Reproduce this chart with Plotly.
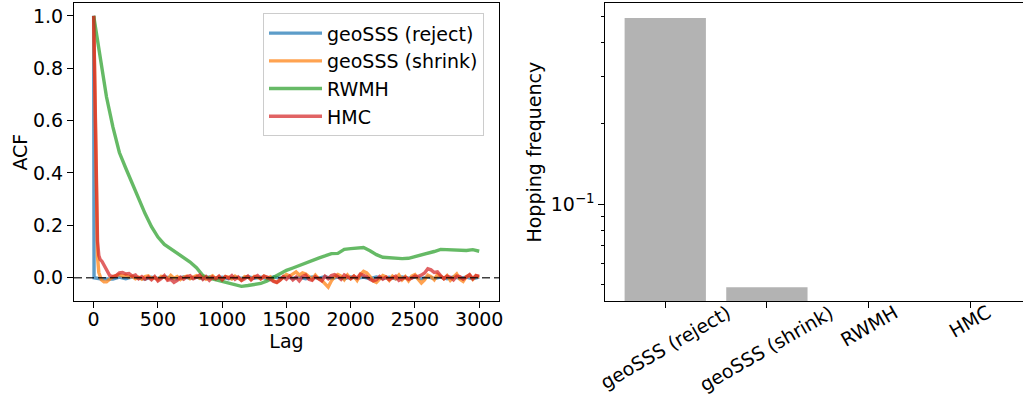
import plotly.graph_objects as go

# ---------------- data: ACF (left panel) ----------------
reject_lag = [0, 3, 50, 100, 150, 200, 250, 300, 350, 400, 450, 500, 550, 600, 650, 700, 750, 800, 850, 900,
              950, 1000, 1050, 1100, 1150, 1200, 1250, 1300, 1350, 1400, 1450, 1500, 1550, 1600, 1650, 1700,
              1750, 1800, 1850, 1900, 1950, 2000, 2050, 2100, 2150, 2200, 2250, 2300, 2350, 2400, 2450, 2500,
              2550, 2600, 2650, 2700, 2750, 2800, 2850, 2900, 2950, 3000]
reject_acf = [1.0, 0.0, -0.004, -0.003, -0.005, 0.002, -0.004, 0.003, -0.002, -0.005, 0.002, -0.003, 0.004,
              -0.002, -0.004, 0.003, -0.002, 0.002, -0.004, 0.003, -0.003, 0.002, -0.004, 0.002, -0.003, 0.004,
              -0.002, 0.002, -0.004, 0.003, -0.002, 0.004, -0.003, 0.002, -0.004, 0.003, -0.002, 0.004, -0.003,
              0.002, -0.004, 0.003, -0.002, 0.002, -0.004, 0.003, -0.003, 0.002, -0.004, 0.003, -0.002, 0.002,
              -0.004, 0.003, -0.003, 0.002, -0.004, 0.003, -0.002, 0.002, -0.004, 0.002]

shrink_lag = [0, 10, 20, 30, 40, 60, 80, 100, 125,
              150, 175, 200, 225, 250, 275, 300, 325, 350, 375, 400, 425, 450, 475, 500, 525, 550, 575, 600,
              625, 650, 675, 700, 725, 750, 775, 800, 825, 850, 875, 900, 925, 950, 975, 1000, 1025, 1050,
              1075, 1100, 1125, 1150, 1175, 1200, 1225, 1250, 1275, 1300, 1325, 1350, 1375, 1400, 1425, 1450,
              1475, 1500, 1525, 1550, 1575, 1600, 1625, 1650, 1675, 1700, 1725, 1750, 1775, 1800, 1825, 1850,
              1875, 1900, 1925, 1950, 1975, 2000, 2025, 2050, 2075, 2100, 2125, 2150, 2175, 2200, 2225, 2250,
              2275, 2300, 2325, 2350, 2375, 2400, 2425, 2450, 2475, 2500, 2525, 2550, 2575, 2600, 2625, 2650,
              2675, 2700, 2725, 2750, 2775, 2800, 2825, 2850, 2875, 2900, 2925, 2950, 2975, 3000]
shrink_acf = [1.0, 0.62, 0.28, 0.08, 0.02, -0.008, -0.016, -0.016, -0.006,
              0.004, 0.008, 0.012, 0.006, 0.010, 0.003, 0.005, -0.004, 0.002, -0.006, 0.004, 0.007, -0.003,
              0.001, -0.008, 0.005, 0.003, -0.005, 0.009, -0.002, 0.004, -0.007, 0.002, 0.006, -0.004, 0.003,
              0.008, -0.002, 0.005, -0.006, 0.001, 0.007, -0.004, 0.003, -0.008, 0.004, 0.002, -0.005, 0.006,
              -0.003, -0.010, 0.004, 0.002, -0.006, 0.005, 0.001, -0.004, 0.006, -0.002, 0.003, -0.012, -0.018,
              -0.008, 0.004, 0.012, 0.006, 0.015, 0.022, 0.010, 0.018, 0.014, 0.002, -0.006, 0.010, -0.004,
              -0.010, -0.024, -0.036, -0.012, 0.004, 0.012, 0.006, -0.008, 0.010, -0.004, 0.006, -0.010, 0.012,
              0.024, 0.018, 0.004, -0.012, -0.018, -0.006, 0.008, 0.003, -0.010, 0.006, -0.004, 0.010, -0.008,
              0.004, -0.012, 0.006, 0.012, -0.006, -0.020, -0.008, 0.010, 0.004, -0.008, 0.012, 0.006, -0.004,
              0.008, -0.010, 0.004, 0.014, -0.006, -0.014, 0.004, 0.010, -0.006, 0.008, 0.002]

rwmh_lag = [0, 25, 50, 100, 150, 200, 250, 300, 350, 400, 450, 500, 550, 600, 650, 700, 750, 800, 850, 900,
            950, 1000, 1050, 1100, 1150, 1200, 1250, 1300, 1350, 1400, 1450, 1500, 1550, 1600, 1650, 1700,
            1750, 1800, 1850, 1900, 1950, 2000, 2050, 2100, 2150, 2200, 2250, 2300, 2350, 2400, 2450, 2500,
            2550, 2600, 2650, 2700, 2750, 2800, 2850, 2900, 2950, 3000]
rwmh_acf = [1.0, 0.92, 0.83, 0.69, 0.575, 0.478, 0.418, 0.36, 0.30, 0.245, 0.195, 0.155, 0.127, 0.11, 0.093,
            0.075, 0.06, 0.038, 0.008, -0.002, -0.008, -0.015, -0.022, -0.028, -0.033, -0.03, -0.027, -0.022,
            -0.012, 0.002, 0.017, 0.028, 0.037, 0.047, 0.057, 0.066, 0.075, 0.083, 0.092, 0.093, 0.108, 0.111,
            0.114, 0.115, 0.103, 0.088, 0.078, 0.076, 0.074, 0.073, 0.074, 0.08, 0.088, 0.092, 0.1, 0.108,
            0.107, 0.105, 0.104, 0.104, 0.107, 0.101]

hmc_lag = [0, 10, 20, 30, 40, 50, 65, 80, 100, 125, 150,
           175, 200, 225, 250, 275, 300, 325, 350, 375, 400, 425, 450, 475, 500, 525, 550, 575, 600, 625,
           650, 675, 700, 725, 750, 775, 800, 825, 850, 875, 900, 925, 950, 975, 1000, 1025, 1050, 1075,
           1100, 1125, 1150, 1175, 1200, 1225, 1250, 1275, 1300, 1325, 1350, 1375, 1400, 1425, 1450, 1475,
           1500, 1525, 1550, 1575, 1600, 1625, 1650, 1675, 1700, 1725, 1750, 1775, 1800, 1825, 1850, 1875,
           1900, 1925, 1950, 1975, 2000, 2025, 2050, 2075, 2100, 2125, 2150, 2175, 2200, 2225, 2250, 2275,
           2300, 2325, 2350, 2375, 2400, 2425, 2450, 2475, 2500, 2525, 2550, 2575, 2600, 2625, 2650, 2675,
           2700, 2725, 2750, 2775, 2800, 2825, 2850, 2875, 2900, 2925, 2950, 2975, 3000]
hmc_acf = [1.0, 0.72, 0.34, 0.14, 0.085, 0.07, 0.062, 0.05, 0.028, 0.008, 0.004,
           0.008, 0.018, 0.020, 0.014, 0.016, 0.006, 0.010, -0.004, 0.004, -0.006, 0.002, -0.008, 0.004,
           -0.012, -0.004, 0.008, -0.010, -0.006, -0.018, -0.010, 0.002, -0.006, 0.004, 0.008, -0.004, 0.002,
           0.010, -0.006, 0.004, -0.010, 0.002, -0.004, 0.006, -0.008, 0.004, -0.002, 0.008, -0.006, 0.003,
           -0.010, -0.004, 0.006, -0.008, 0.002, 0.008, -0.004, 0.006, 0.002, -0.006, -0.014, -0.018, -0.010,
           0.004, -0.006, 0.006, -0.008, 0.002, -0.012, 0.004, 0.010, -0.006, -0.010, 0.004, -0.004, -0.012,
           0.006, -0.004, 0.008, 0.012, 0.004, -0.006, 0.010, 0.002, -0.004, 0.006, -0.002, 0.014, 0.008,
           0.004, -0.006, -0.012, -0.008, 0.004, -0.006, 0.002, -0.008, -0.002, 0.006, -0.010, -0.004, 0.002,
           -0.006, -0.002, 0.006, 0.004, 0.010, 0.018, 0.034, 0.030, 0.020, 0.022, 0.008, -0.004, 0.006,
           0.002, -0.008, 0.006, 0.004, -0.006, 0.002, 0.012, -0.004, 0.008, 0.006]

series_names = ["geoSSS (reject)", "geoSSS (shrink)", "RWMH", "HMC"]
series_colors = ["#1f77b4", "#ff7f0e", "#2ca02c", "#d62728"]

x_ticks = [0, 500, 1000, 1500, 2000, 2500, 3000]
y_ticks = [0.0, 0.2, 0.4, 0.6, 0.8, 1.0]

# ---------------- data: hopping frequency (right panel) ----------------
samplers = ["geoSSS (reject)", "geoSSS (shrink)", "RWMH", "HMC"]
hop_freq = [0.495, 0.049, 0.0, 0.0]
log_major_ticks = [0.1]
log_major_text = ["10<sup>\u22121</sup>"]
log_minor_ticks = [0.05, 0.06, 0.07, 0.08, 0.09, 0.2, 0.3, 0.4, 0.5]

FONT = "DejaVu Sans"
FS = 19
W, H = 1023, 409

fig = go.Figure()

pairs = [(reject_lag, reject_acf), (shrink_lag, shrink_acf), (rwmh_lag, rwmh_acf), (hmc_lag, hmc_acf)]
for (lx, ly), name, col in zip(pairs, series_names, series_colors):
    fig.add_trace(go.Scatter(x=lx, y=ly, mode="lines", name=name,
                             line=dict(color=col, width=3.4), opacity=0.72,
                             xaxis="x", yaxis="y"))

fig.add_trace(go.Bar(x=samplers, y=hop_freq, marker=dict(color="#b3b3b3", line=dict(width=0)),
                     width=0.8, showlegend=False, xaxis="x2", yaxis="y2"))

# dashed zero line across the left panel
fig.add_shape(type="line", xref="x domain", yref="y", x0=0, x1=1, y0=0, y1=0,
              line=dict(color="rgba(0,0,0,0.75)", width=1.6, dash="8px,4px"), layer="above")

axis_common = dict(showgrid=False, zeroline=False, showline=True, linecolor="black", linewidth=1,
                   ticks="outside", tickcolor="black", tickwidth=1, automargin=False,
                   tickfont=dict(family=FONT, size=FS, color="black"))

top = 1 - 3.3 / H
bot = 1 - 301 / H

fig.update_layout(
    width=W, height=H,
    margin=dict(l=0, r=0, t=0, b=0),
    paper_bgcolor="white", plot_bgcolor="white",
    font=dict(family=FONT, size=FS, color="black"),
    xaxis=dict(domain=[74 / W, 499 / W], anchor="y", range=[-153, 3154], tickvals=x_ticks,
               ticklen=6, mirror=True, ticklabelstandoff=-5,
               title=dict(text="Lag", font=dict(family=FONT, size=FS), standoff=0), **axis_common),
    yaxis=dict(domain=[bot, top], anchor="x", range=[-0.089, 1.048], tickvals=y_ticks, tickformat=".1f",
               ticklen=6, mirror=True,
               title=dict(text="ACF", font=dict(family=FONT, size=FS), standoff=0), **axis_common),
    xaxis2=dict(domain=[605.3 / W, 1.0], anchor="y2", type="category", range=[-0.59, 3.52],
                ticklen=6, showticklabels=False, mirror=True, **axis_common),
    yaxis2=dict(domain=[bot, top], anchor="x2", type="log", range=[-1.3615, -0.251],
                tickmode="array", tickvals=log_major_ticks, ticktext=log_major_text, ticklen=6,
                minor=dict(tickmode="array", tickvals=log_minor_ticks, ticks="outside", ticklen=3,
                           tickcolor="black", tickwidth=1, showgrid=False),
                mirror=False,
                title=dict(text="Hopping frequency", font=dict(family=FONT, size=FS), standoff=4),
                **axis_common),
    legend=dict(x=263 / W, y=1 - 13.3 / H, xanchor="left", yanchor="top", itemwidth=53,
                bgcolor="rgba(255,255,255,0.8)", bordercolor="#cccccc", borderwidth=1,
                font=dict(family=FONT, size=FS, color="black")),
    bargap=0.2,
)

# rotated category labels, centred under each tick (matplotlib style)
for s in samplers:
    fig.add_annotation(x=s, xref="x2", y=1 - 298 / H, yref="paper", text=s, showarrow=False,
                       textangle=-30, xanchor="center", yanchor="top",
                       font=dict(family=FONT, size=FS, color="black"))

fig.write_html("out.html", post_script="document.body.style.margin='0';",
               config={"displayModeBar": False})
